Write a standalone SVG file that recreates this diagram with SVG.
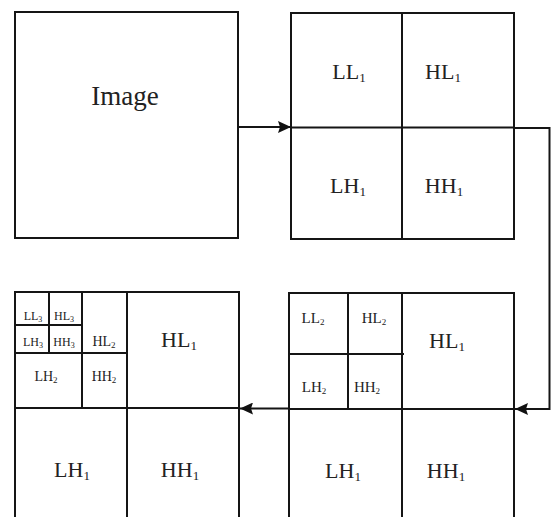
<svg xmlns="http://www.w3.org/2000/svg" width="551" height="517" viewBox="0 0 551 517">
<defs>
<marker id="ah" viewBox="0 0 13 12" refX="13" refY="6" markerWidth="13" markerHeight="12" markerUnits="userSpaceOnUse" orient="auto">
<path d="M0,0 L13,6 L0,12 L2,6 Z" fill="#111"/>
</marker>
<style>
.b{fill:none;stroke:#151515;stroke-width:2}
.l{stroke:#151515;stroke-width:2;fill:none}
.t{font-family:"Liberation Serif","Times New Roman",serif;fill:#222;text-anchor:middle}
.c{stroke:#151515;stroke-width:2;fill:none}
</style>
</defs>
<rect width="551" height="517" fill="#fff"/>
<g id="image">
<rect class="b" x="15" y="12" width="223" height="226"/>
<text class="t" x="125" y="105" font-size="27">Image</text>
</g>
<g id="level1">
<rect class="b" x="291" y="13" width="223" height="226"/>
<line class="l" x1="402" y1="13" x2="402" y2="239"/>
<line class="l" x1="291" y1="127.5" x2="514" y2="127.5"/>
<text class="t" x="349" y="79" font-size="22">LL<tspan font-size="13" dy="3">1</tspan></text>
<text class="t" x="443" y="79" font-size="22">HL<tspan font-size="13" dy="3">1</tspan></text>
<text class="t" x="348" y="193" font-size="22">LH<tspan font-size="13" dy="3">1</tspan></text>
<text class="t" x="444" y="193" font-size="22">HH<tspan font-size="13" dy="3">1</tspan></text>
</g>
<g id="level2">
<rect class="b" x="289" y="293" width="225" height="230"/>
<line class="l" x1="402" y1="293" x2="402" y2="517"/>
<line class="l" x1="289" y1="409" x2="514" y2="409"/>
<line class="l" x1="348" y1="293" x2="348" y2="409"/>
<line class="l" x1="289" y1="354" x2="404" y2="354"/>
<text class="t" x="313" y="323" font-size="15">LL<tspan font-size="9" dy="2">2</tspan></text>
<text class="t" x="374" y="323" font-size="15">HL<tspan font-size="9" dy="2">2</tspan></text>
<text class="t" x="314" y="392" font-size="15">LH<tspan font-size="9" dy="2">2</tspan></text>
<text class="t" x="367" y="392" font-size="15">HH<tspan font-size="9" dy="2">2</tspan></text>
<text class="t" x="447" y="348" font-size="22">HL<tspan font-size="13" dy="3">1</tspan></text>
<text class="t" x="343" y="478" font-size="22">LH<tspan font-size="13" dy="3">1</tspan></text>
<text class="t" x="446" y="478" font-size="22">HH<tspan font-size="13" dy="3">1</tspan></text>
</g>
<g id="level3">
<rect class="b" x="15" y="292" width="224" height="230"/>
<line class="l" x1="127" y1="292" x2="127" y2="517"/>
<line class="l" x1="15" y1="408" x2="239" y2="408"/>
<line class="l" x1="82" y1="292" x2="82" y2="408"/>
<line class="l" x1="15" y1="353" x2="127" y2="353"/>
<line class="l" x1="49" y1="292" x2="49" y2="353"/>
<line class="l" x1="15" y1="325" x2="82" y2="325"/>
<text class="t" x="33" y="320" font-size="12">LL<tspan font-size="8" dy="2">3</tspan></text>
<text class="t" x="64" y="320" font-size="12">HL<tspan font-size="8" dy="2">3</tspan></text>
<text class="t" x="33" y="346" font-size="12">LH<tspan font-size="8" dy="2">3</tspan></text>
<text class="t" x="64" y="346" font-size="12">HH<tspan font-size="8" dy="2">3</tspan></text>
<text class="t" x="104" y="346" font-size="14">HL<tspan font-size="9" dy="2">2</tspan></text>
<text class="t" x="46" y="381" font-size="14">LH<tspan font-size="9" dy="2">2</tspan></text>
<text class="t" x="104" y="381" font-size="14">HH<tspan font-size="9" dy="2">2</tspan></text>
<text class="t" x="179" y="347" font-size="22">HL<tspan font-size="13" dy="3">1</tspan></text>
<text class="t" x="72" y="477" font-size="22">LH<tspan font-size="13" dy="3">1</tspan></text>
<text class="t" x="180" y="477" font-size="22">HH<tspan font-size="13" dy="3">1</tspan></text>
</g>
<g id="connectors">
<line class="c" x1="238" y1="127" x2="291" y2="127" marker-end="url(#ah)"/>
<polyline class="c" points="514,128 549.5,128 549.5,409 515,409" marker-end="url(#ah)"/>
<line class="c" x1="289" y1="408.5" x2="240" y2="408.5" marker-end="url(#ah)"/>
</g>
</svg>
